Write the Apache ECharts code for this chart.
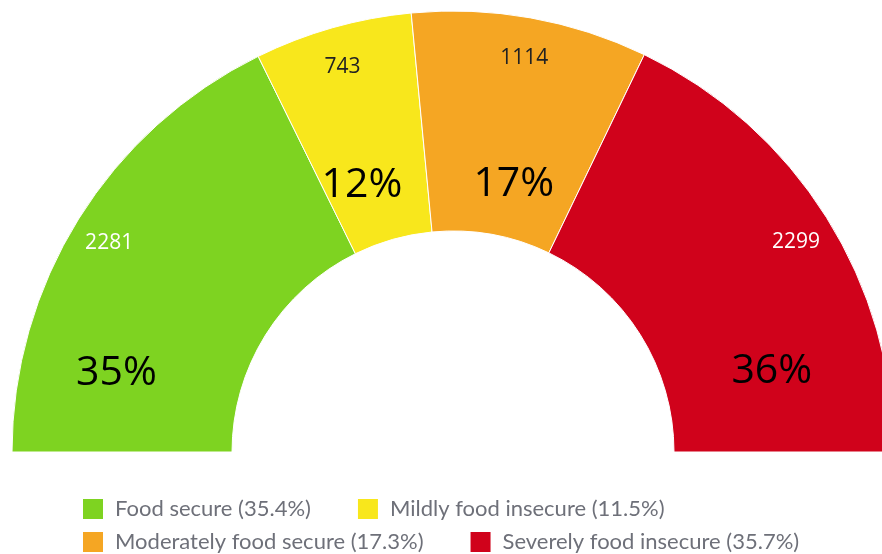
<!DOCTYPE html>
<html>
<head>
<meta charset="utf-8">
<script src="https://cdn.jsdelivr.net/npm/echarts@6/dist/echarts.min.js"></script>
<style>
  html, body { margin: 0; padding: 0; background: #fff; }
  #main { width: 882px; height: 554px; }
</style>
</head>
<body>
<div id="main"></div>
<script>
var categories = ['Food secure', 'Mildly food insecure', 'Moderately food secure', 'Severely food insecure'];
var counts = [2281, 743, 1114, 2299];
var colors = ['#7ED321', '#F8E71C', '#F5A623', '#D0021B'];
var countLabelColors = ['#ffffff', '#222222', '#222222', '#ffffff'];
// the big percentage labels are not on the slice mid line, nudge them
var pctShift = [[-53, 98], [0, 55], [2, 61], [36, 97]];

var total = counts.reduce(function (a, b) { return a + b; }, 0);

var chartDom = document.getElementById('main');
var myChart = echarts.init(chartDom);

var ringData = categories.map(function (name, i) {
  return { name: name, value: counts[i], itemStyle: { color: colors[i] } };
});
var countData = categories.map(function (name, i) {
  return { name: name, value: counts[i], label: { color: countLabelColors[i] } };
});

function legendFormatter(name) {
  var i = categories.indexOf(name);
  return name + ' (' + (counts[i] / total * 100).toFixed(1) + '%)';
}

var legendBase = {
  left: 81,
  padding: 0,
  orient: 'horizontal',
  icon: 'rect',
  itemWidth: 22,
  itemHeight: 22,
  itemGap: 45,
  formatter: legendFormatter,
  selectedMode: false,
  textStyle: {
    fontFamily: 'Lato',
    fontSize: 22,
    color: '#6E7079',
    lineHeight: 22,
    padding: [0, 0, 0, 6]
  }
};

var option = {
  animation: false,
  legend: [
    Object.assign({}, legendBase, { top: 497, data: [categories[0], categories[1]] }),
    Object.assign({}, legendBase, { top: 530, data: [categories[2], categories[3]] })
  ],
  series: [
    {
      name: 'ring',
      type: 'pie',
      center: [453, 452],
      radius: [221, 441],
      startAngle: 180,
      endAngle: 360,
      avoidLabelOverlap: false,
      emphasis: { disabled: true },
      itemStyle: { borderColor: '#ffffff', borderWidth: 1 },
      label: {
        show: true,
        position: 'inside',
        fontFamily: 'Open Sans',
        fontSize: 41,
        color: '#000000',
        formatter: function (p) {
          return Math.round(p.value / total * 100) + '%';
        }
      },
      labelLine: { show: false },
      labelLayout: function (params) {
        var s = pctShift[params.dataIndex];
        return { dx: s[0], dy: s[1] };
      },
      data: ringData
    },
    {
      name: 'counts',
      type: 'pie',
      center: [453, 452],
      radius: [363, 441],
      startAngle: 180,
      endAngle: 360,
      silent: true,
      avoidLabelOverlap: false,
      emphasis: { disabled: true },
      itemStyle: { color: 'rgba(0,0,0,0)', borderWidth: 0 },
      label: {
        show: true,
        position: 'inside',
        fontFamily: 'Open Sans',
        fontSize: 21,
        formatter: '{c}'
      },
      labelLine: { show: false },
      labelLayout: function () {
        return { dy: 5 };
      },
      data: countData
    }
  ]
};

option && myChart.setOption(option);
</script>
</body>
</html>
